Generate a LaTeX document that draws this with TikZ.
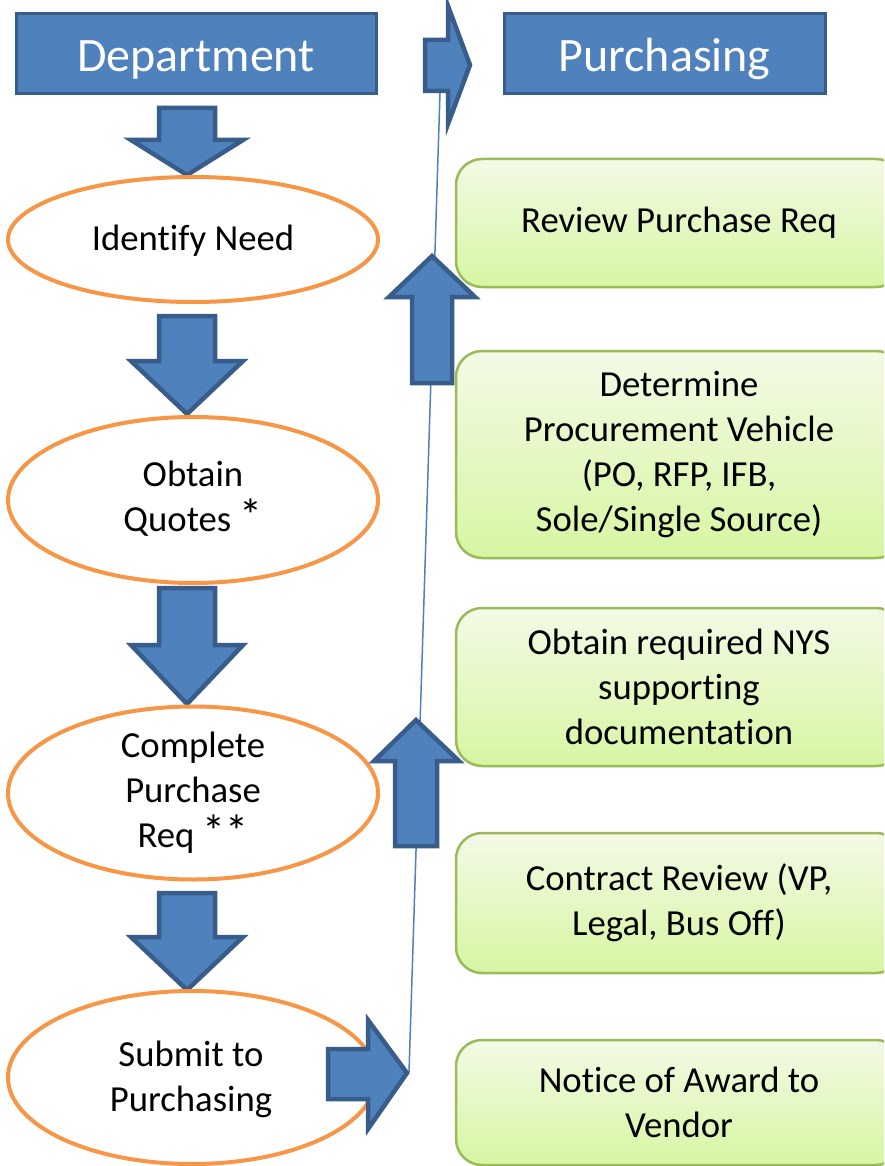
\documentclass[tikz,border=0pt]{standalone}
\usepackage{fontspec}
\setmainfont{Carlito}[Ligatures={NoCommon,NoContextual,NoRare}]
\usetikzlibrary{shapes.geometric}
\definecolor{bfill}{HTML}{4F81BD}
\definecolor{bline}{HTML}{385D8A}
\definecolor{oline}{HTML}{F79646}
\definecolor{gline}{HTML}{9BBB59}
\definecolor{gtop}{RGB}{243,250,230}
\definecolor{gbot}{RGB}{214,246,162}
\newcommand{\bigast}{{\fontsize{46}{44.8}\selectfont *}}
\tikzset{
  hbox/.style={draw=bline, fill=bfill, line width=3pt, text=white, inner sep=0pt,
    text height=46pt, text depth=10pt,
    font=\fontsize{48}{58}\selectfont},
  gbox/.style={draw=gline, line width=2.5pt, rounded corners=26pt, top color=gtop, bottom color=gbot,
    inner sep=0pt, align=center, font=\fontsize{36.7}{44.8}\selectfont},
  oval/.style={ellipse, draw=oline, line width=4pt, fill=white, inner sep=0pt},
  otext/.style={align=center, font=\fontsize{36.7}{44.8}\selectfont, inner sep=0pt},
  blk/.style={draw=bline, fill=bfill, line width=4.5pt, line join=miter},
  thinline/.style={draw=bfill, line width=1.5pt}
}
\begin{document}
\begin{tikzpicture}[x=1pt, y=-1pt]
\useasboundingbox (0,0) rectangle (884,1166);
\clip (0,0) rectangle (884,1166);
\fill[white] (0,0) rectangle (884,1166);

% green boxes (purchasing column)
\node[gbox, minimum width=446pt, minimum height=128pt] (r1) at (679,223) {Review Purchase Req};
\node[gbox, minimum width=446pt, minimum height=207pt] (r2) at (679,454.5) {Determine\\Procurement Vehicle\\(PO, RFP, IFB,\\Sole/Single Source)};
\node[gbox, minimum width=446pt, minimum height=158pt] (r3) at (679,687) {Obtain required NYS\\supporting\\documentation};
\node[gbox, minimum width=446pt, minimum height=140pt] (r4) at (679,903) {Contract Review (VP,\\Legal, Bus Off)};
\node[gbox, minimum width=446pt, minimum height=125pt] (r5) at (679,1102.5) {Notice of Award to\\Vendor};

% thin connector line
\coordinate (ls) at (440,93);
\coordinate (le) at (409,1072);
\draw[thinline] (ls) -- (le);

% down arrows (department column)
\draw[blk] (159,108) -- (215,108) -- (215,140) -- (243,140) -- (187,175) -- (131,140) -- (159,140) -- cycle;
\draw[blk] (159,316) -- (215,316) -- (215,361) -- (243,361) -- (187,414) -- (131,361) -- (159,361) -- cycle;
\draw[blk] (159,588) -- (215,588) -- (215,645) -- (243,645) -- (187,704) -- (131,645) -- (159,645) -- cycle;
\draw[blk] (159,893) -- (215,893) -- (215,937) -- (243,937) -- (187,990) -- (131,937) -- (159,937) -- cycle;

% ellipses
\node[oval, minimum width=370pt, minimum height=125pt] (e1) at (193,239.5) {};
\node[otext] at ([yshift=-1pt]e1.center) {Identify Need};
\node[oval, minimum width=370pt, minimum height=166pt] (e2) at (193,500) {};
\node[otext] at ([yshift=1pt]e2.center) {Obtain\\Quotes \bigast};
\node[oval, minimum width=370pt, minimum height=173pt] (e3) at (193,793) {};
\node[otext] at (e3.center) {Complete\\Purchase\\Req \bigast\bigast};
\node[oval, minimum width=368pt, minimum height=173pt] (e4) at (192,1077.5) {};
\node[otext] at ([xshift=-1pt,yshift=-2pt]e4.center) {Submit to\\Purchasing};

% up arrows
\draw[blk] (432,256) -- (475,297) -- (452,297) -- (452,383) -- (412,383) -- (412,297) -- (389,297) -- cycle;
\draw[blk] (416,720) -- (459,761) -- (437,761) -- (437,846) -- (395,846) -- (395,761) -- (374,761) -- cycle;

% right arrows
\draw[blk] (425,40) -- (448,40) -- (448,6) -- (470,65) -- (448,124) -- (448,91) -- (425,91) -- cycle;
\draw[blk] (328,1049) -- (368,1049) -- (368,1020) -- (407,1073) -- (368,1129) -- (368,1099) -- (328,1099) -- cycle;

% header boxes
\node[hbox, minimum width=360pt, minimum height=80pt] (dept) at (196,54) {Department};
\node[hbox, minimum width=321pt, minimum height=80pt] (purch) at (664.5,54) {Purchasing};
\end{tikzpicture}
\end{document}
